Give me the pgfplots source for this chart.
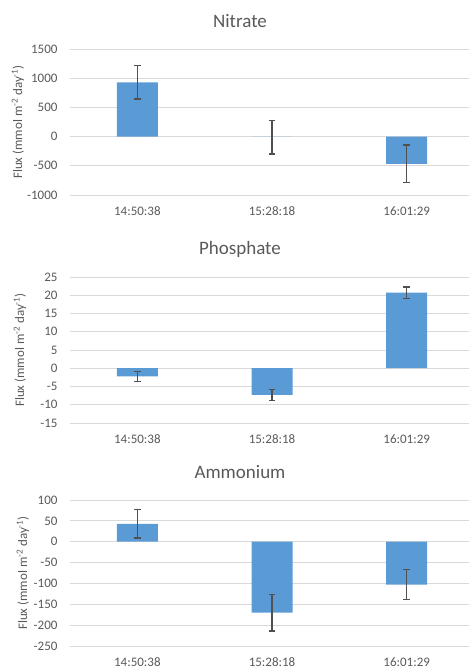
\documentclass[border=0pt]{standalone}
\usepackage{fontspec}
\setmainfont{Carlito}
\usepackage{pgfplots}
\pgfplotsset{compat=1.18}
\definecolor{barblue}{HTML}{5B9BD5}
\definecolor{txtgray}{HTML}{595959}
\definecolor{errgray}{HTML}{505050}
\definecolor{gridgray}{HTML}{D9D9D9}

\pgfplotsset{
  flux/.style={
    anchor=south west,
    scale only axis,
    width=404pt, height=146pt,
    xmin=-0.5, xmax=2.5,
    ybar, bar width=41pt,
    xtick={0,1,2},
    xticklabels={14:50:38,15:28:18,16:01:29},
    ymajorgrids,
    grid style={color=gridgray, line width=0.9pt},
    axis line style={draw=none},
    major tick length=0pt,
    tick style={draw=none},
    /pgf/number format/assume math mode=true,
    /pgf/number format/1000 sep={},
    tick label style={font=\fontsize{13}{15}\selectfont, color=txtgray},
    xticklabel style={anchor=center, yshift=-16pt},
    yticklabel style={anchor=east, xshift=-9pt},
    title style={at={(axis description cs:0,1)}, anchor=center,
      xshift=170pt, yshift=22pt,
      font=\fontsize{19}{21}\selectfont, color=txtgray},
    ylabel={Flux (mmol m\textsuperscript{-2} day\textsuperscript{-1})},
    clip=false,
  },
  % label centre given as a fraction of the axis width, left of the axis
  ylab/.style={every axis y label/.style={at={(axis description cs:#1,0.5)},
    rotate=90, anchor=center,
    font=\fontsize{13}{15}\selectfont, color=txtgray}},
  fluxbars/.style={
    fill=barblue, draw=none,
    error bars/.cd, y dir=both, y explicit,
    error bar style={draw=errgray, line width=1.3pt},
    error mark options={rotate=90, mark size=3.2pt, draw=errgray, line width=1.3pt},
  },
}

\begin{document}
\begin{tikzpicture}
% Nitrate
\begin{axis}[flux, at={(70pt,475pt)}, title={Nitrate}, ylab=-0.1287,
  ymin=-1000, ymax=1500, ytick={-1000,-500,...,1500}]
\addplot[fluxbars] coordinates {(0,930) +- (0,285) (1,0) += (0,277) -= (0,299) (2,-468) +- (0,322)};
\end{axis}
% Phosphate
\begin{axis}[flux, at={(70pt,247pt)}, title={Phosphate}, ylab=-0.1238,
  ymin=-15, ymax=25, ytick={-15,-10,...,25}]
\addplot[fluxbars] coordinates {(0,-2.2) +- (0,1.4) (1,-7.3) +- (0,1.5) (2,20.7) +- (0,1.55)};
\end{axis}
% Ammonium
\begin{axis}[flux, at={(70pt,24pt)}, title={Ammonium}, ylab=-0.1163,
  ymin=-250, ymax=100, ytick={-250,-200,...,100}]
\addplot[fluxbars] coordinates {(0,43) +- (0,34) (1,-170) +- (0,44) (2,-103) +- (0,36)};
\end{axis}
\pgfresetboundingbox
\useasboundingbox (0,0) rectangle (469pt,670pt);
\end{tikzpicture}
\end{document}
